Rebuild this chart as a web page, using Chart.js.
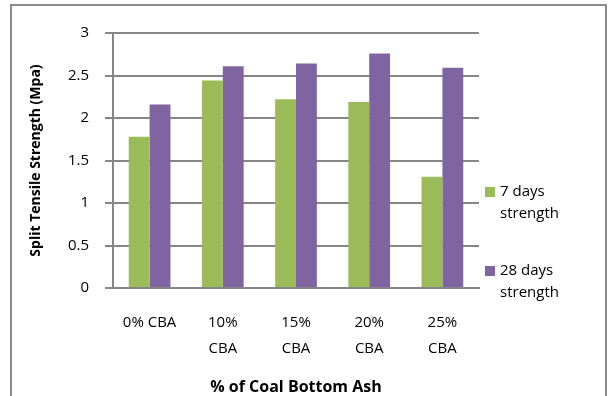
<!DOCTYPE html>
<html>
<head>
<meta charset="utf-8">
<script src="https://cdn.jsdelivr.net/npm/chart.js@4"></script>
<style>
  html, body { margin: 0; padding: 0; background: #fff; }
  #wrap { width: 610px; height: 396px; }
</style>
</head>
<body>
<div id="wrap"><canvas id="tensileChart" width="610" height="396"></canvas></div>
<script>
let categories = [["0% CBA"], ["10%", "CBA"], ["15%", "CBA"], ["20%", "CBA"], ["25%", "CBA"]]
let days7 = [1.78, 2.44, 2.22, 2.19, 1.31]
let days28 = [2.16, 2.61, 2.64, 2.76, 2.59]
let seriesNames = [["7 days", "strength"], ["28 days", "strength"]]
let yTicks = [0, 0.5, 1, 1.5, 2, 2.5, 3]

let font = "'Open Sans', 'Liberation Sans', sans-serif"

// frame round the whole chart + two-line legend on the right
let extras = {
    id: "extras",
    afterDraw(chart) {
        let ctx = chart.ctx
        ctx.save()
        ctx.strokeStyle = "#8c8c8c"
        ctx.lineWidth = 2
        ctx.beginPath()
        ctx.moveTo(11, 400)
        ctx.lineTo(11, 5)
        ctx.lineTo(606, 5)
        ctx.lineTo(606, 400)
        ctx.stroke()

        ctx.font = "15px " + font
        ctx.textBaseline = "middle"
        let tops = [192, 271]
        chart.data.datasets.forEach((ds, i) => {
            ctx.fillStyle = ds.backgroundColor
            ctx.fillRect(485, tops[i] - 5, 10, 10)
            ctx.fillStyle = "#000"
            seriesNames[i].forEach((line, j) => {
                ctx.fillText(line, 500, tops[i] + j * 22)
            })
        })
        ctx.restore()
    }
}

let config = {
    type: "bar",
    data: {
        labels: categories,
        datasets: [
            { label: "7 days strength", data: days7, backgroundColor: "#9bbb59" },
            { label: "28 days strength", data: days28, backgroundColor: "#8064a2" },
        ],
    },
    options: {
        responsive: false,
        animation: false,
        layout: { padding: { left: 20, right: 131, top: 33, bottom: 0 } },
        datasets: { bar: { categoryPercentage: 0.57, barPercentage: 1.0 } },
        plugins: { legend: { display: false }, tooltip: { enabled: false } },
        scales: {
            x: {
                grid: { display: false, drawTicks: false },
                border: { color: "#868686", width: 2 },
                ticks: { color: "#000", font: { family: font, size: 15, lineHeight: 1.73 }, padding: 22, maxRotation: 0 },
                title: { display: true, text: "% of Coal Bottom Ash", color: "#000", font: { family: font, size: 16, weight: "bold", lineHeight: 0.75 }, padding: { top: -3, bottom: 3 } },
            },
            y: {
                min: 0,
                max: 3,
                afterBuildTicks(axis) { axis.ticks = yTicks.map(v => ({ value: v })) },
                afterFit(axis) { axis.width = 93 },
                grid: { color: "#868686", lineWidth: 2, tickLength: 8 },
                border: { color: "#868686", width: 2 },
                ticks: { color: "#000", font: { family: font, size: 15 }, padding: 16, callback: v => String(v) },
                title: { display: true, text: "Split Tensile Strength (Mpa)", color: "#000", font: { family: font, size: 14, weight: "bold" }, padding: { top: 8, bottom: 6 } },
            },
        },
    },
    plugins: [extras],
}
let tensileChart = new Chart(document.getElementById("tensileChart"), config)
</script>
</body>
</html>
